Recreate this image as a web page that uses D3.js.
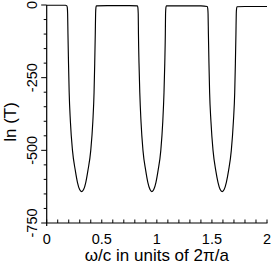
<!DOCTYPE html>
<html><head><meta charset="utf-8">
<script src="https://cdn.jsdelivr.net/npm/d3@7"></script>
<style>body{margin:0;background:#fff}svg{display:block}text{font-family:"Liberation Sans",Arial,sans-serif;fill:#000}</style>
</head><body>
<script>
const omega = [0.000,0.100,0.170,0.183,0.187,0.190,0.193,0.198,0.204,0.215,0.234,0.260,0.279,0.299,0.317,0.335,0.355,0.374,0.400,0.419,0.430,0.436,0.441,0.444,0.447,0.451,
0.550,0.650,0.750,0.824,0.828,0.831,0.833,0.838,0.845,0.856,0.874,0.899,0.918,0.938,0.955,0.972,0.992,1.011,1.036,1.054,1.065,1.072,1.077,1.079,1.082,1.086,
1.200,1.300,1.400,1.458,1.462,1.465,1.468,1.473,1.479,1.491,1.510,1.535,1.555,1.575,1.593,1.611,1.631,1.651,1.676,1.695,1.707,1.713,1.718,1.721,1.724,1.728,
1.800,1.900,2.000];
const lnT = [-1,-1,-1,-3,-9,-30,-100,-200,-300,-400,-500,-570,-610,-635,-642,-635,-610,-570,-500,-400,-300,-200,-100,-30,-9,-3,
-2,-2,-2,-3,-10,-30,-100,-200,-300,-400,-500,-570,-610,-635,-642,-635,-610,-570,-500,-400,-300,-200,-100,-30,-10,-3,
-3,-3,-3,-5,-12,-30,-100,-200,-300,-400,-500,-570,-610,-635,-642,-635,-610,-570,-500,-400,-300,-200,-100,-30,-12,-6,
-5,-5,-5];
const xTickLabels = [0,0.5,1,1.5,2];
const yTickLabels = [0,-250,-500,-750];
const xLabel = "ω/c in units of 2π/a";
const yLabel = "ln (T)";

const W=272,H=264, L=46.7, R=267, T=5, B=223;
const svg=d3.select("body").append("svg").attr("width",W).attr("height",H);
const x=d3.scaleLinear().domain([0,2]).range([L,R]);
const y=d3.scaleLinear().domain([-750,0]).range([B,T]);

const pts=omega.map((o,i)=>[o,lnT[i]]);
svg.append("path").datum(pts)
  .attr("d",d3.line().x(d=>x(d[0])).y(d=>y(d[1])).curve(d3.curveMonotoneX))
  .attr("fill","none").attr("stroke","#000").attr("stroke-width",1.15);

const xMinor=d3.range(0,21).map(i=>i/10);
const gx=svg.append("g").attr("transform",`translate(0,${B})`);
gx.append("line").attr("x1",L-0.6).attr("x2",R+0.5).attr("stroke","#000").attr("stroke-width",1.2);
gx.selectAll("line.t").data(xMinor).join("line").attr("class","t")
  .attr("x1",d=>x(d)).attr("x2",d=>x(d)).attr("y1",0).attr("y2",-3.5)
  .attr("stroke","#000").attr("stroke-width",1);
gx.selectAll("text").data(xTickLabels).join("text")
  .attr("x",d=>x(d)).attr("y",20.5).attr("text-anchor","middle")
  .style("font-size","14.5px").text(d=>d);

const yMinor=d3.range(0,16).map(i=>-i*50);
const gy=svg.append("g").attr("transform",`translate(${L},0)`);
gy.append("line").attr("y1",T).attr("y2",B+3).attr("stroke","#000").attr("stroke-width",1.2);
gy.selectAll("line.t").data(yMinor).join("line").attr("class","t")
  .attr("y1",d=>y(d)).attr("y2",d=>y(d)).attr("x1",0).attr("x2",d=>d%250===0?-5.5:-3)
  .attr("stroke","#000").attr("stroke-width",1);
gy.selectAll("text").data(yTickLabels).join("text")
  .attr("transform",d=>`translate(-9.5,${y(d)}) rotate(-90)`)
  .attr("text-anchor","middle").style("font-size","14.5px").text(d=>d);

svg.append("text").attr("x",(L+R)/2).attr("y",261).attr("text-anchor","middle")
  .style("font-size","17px").text(xLabel);
svg.append("text").attr("transform",`translate(16,${(T+B)/2+8}) rotate(-90)`)
  .attr("text-anchor","middle").style("font-size","17px").text(yLabel);
</script>
</body></html>
